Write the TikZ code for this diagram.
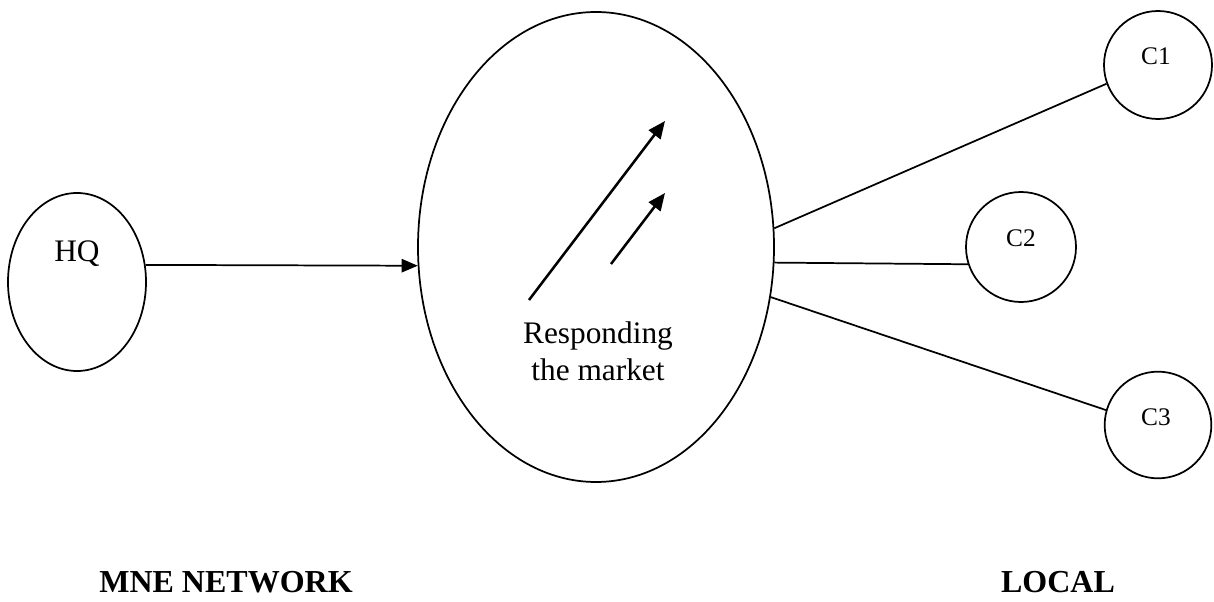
\documentclass[tikz,border=0pt]{standalone}
\usepackage{fontspec}
\setmainfont{Liberation Serif}
\usetikzlibrary{shapes.geometric,arrows.meta}
\begin{document}
\begin{tikzpicture}[x=0.75pt,y=-0.75pt,
  outline/.style={draw,line width=1.3pt,inner sep=0pt},
  conn/.style={line width=1.3pt},
  arr/.style={line width=1.3pt,-{Triangle[length=12pt,width=10pt]}},
  thickarr/.style={line width=1.9pt,-{Triangle[length=13pt,width=11pt]}},
  lbl/.style={font=\fontsize{23.5}{27.75}\selectfont,align=center,inner sep=0pt},
  clbl/.style={font=\fontsize{19}{22}\selectfont,inner sep=0pt},
  title/.style={font=\fontsize{24}{28}\selectfont\bfseries,inner sep=0pt,anchor=base}]
\useasboundingbox (0,0) rectangle (1214,602);
% shapes
\node[outline,ellipse,minimum width=103.5pt,minimum height=133.5pt] (hq) at (77,282) {};
\node[outline,ellipse,minimum width=267pt,minimum height=352.5pt] (big) at (596,247) {};
\node[outline,circle,minimum size=81pt] (c1) at (1158,65) {};
\node[outline,circle,minimum size=82.5pt] (c2) at (1021,247) {};
\node[outline,circle,minimum size=80pt] (c3) at (1158,425) {};
% labels
\node[lbl] (hqt) at (77,254) {HQ};
\node[lbl] (bigt) at (598,351) {Responding\\the market};
\node[clbl] (c1t) at (1156,56) {C1};
\node[clbl] (c2t) at (1021,238) {C2};
\node[clbl] (c3t) at (1156,417) {C3};
\node[title] (mne) at (226,592) {MNE NETWORK};
\node[title] (loc) at (1058,592) {LOCAL};
% connectors
\draw[arr] (hq.14) -- (big.186);
\draw[conn] (big.6) -- (c1.200);
\draw[conn] (big.-5) -- (c2.198);
\draw[conn] (big.-16) -- (c3.164);
% inner arrows
\coordinate (la) at (529,300);
\coordinate (lb) at (665,121);
\coordinate (sa) at (611,264);
\coordinate (sb) at (665,193);
\draw[thickarr] (la) -- (lb);
\draw[thickarr] (sa) -- (sb);
\end{tikzpicture}
\end{document}
